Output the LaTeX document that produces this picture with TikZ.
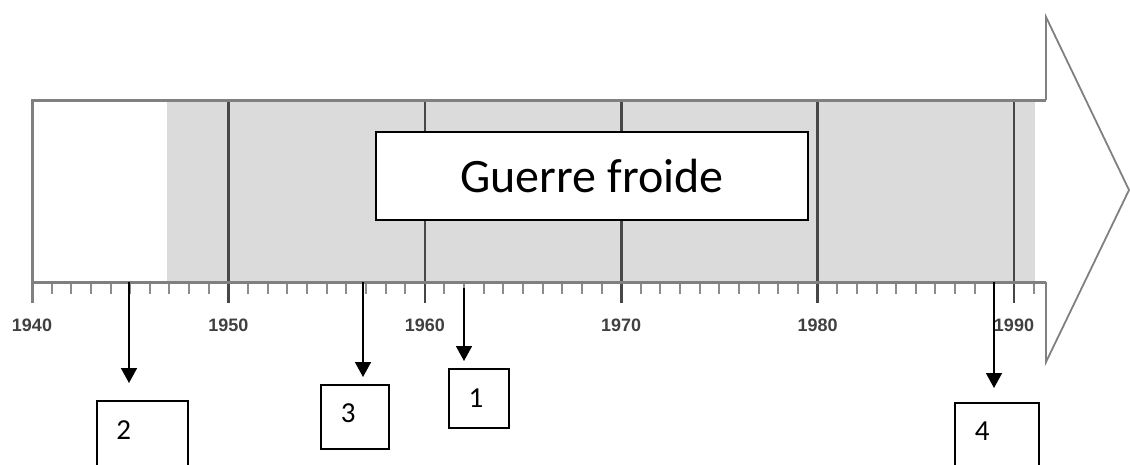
\documentclass[tikz,border=0pt]{standalone}
\usepackage{fontspec}
\setmainfont{Carlito}
\newfontfamily\anneefont{Liberation Sans}
\usetikzlibrary{arrows.meta}

\tikzset{
  bande/.style={draw=black!50, line width=3pt},
  pointe/.style={draw=black!50, line width=1.8pt, line join=miter},
  graduation/.style={draw=black!45, line width=2pt},
  decennie/.style={draw=black!72, line width=2.6pt},
  annee/.style={font=\anneefont\bfseries\fontsize{18}{20}\selectfont, text=black!75},
  periode/.style={draw, fill=white, line width=2pt, minimum width=432pt, minimum height=88pt,
    font=\fontsize{48}{56}\selectfont},
  numbox/.style={draw, fill=white, line width=1.6pt, inner ysep=0pt, align=left,
    anchor=north west, font=\fontsize{29}{32}\selectfont},
  fleche/.style={-{Triangle[length=15pt,width=16pt]}, line width=1.6pt}
}

\begin{document}
\begin{tikzpicture}[x=1pt,y=-1pt]
    \useasboundingbox (0,0) rectangle (1130,464);

    % fond de la frise
    \fill[white] (32,100) rectangle (1046,282);
    \fill[black!14] (167,100) rectangle (1035,282);

    % pointe de la fleche
    \draw[pointe] (1046,100) -- (1046,17) -- (1129,190) -- (1046,362) -- (1046,282);

    % graduations (une par an)
    \foreach \a in {1,...,51}
        \draw[graduation] ({32+19.64*\a},282) -- ++(0,12);
    \foreach \d in {1,...,5}
        \draw[decennie] ({32+196.4*\d},100) -- ++(0,203);

    % contour de la frise
    \draw[bande] (1046,100) -- (32,100) -- (32,303);
    \draw[bande] (32,282) -- (1046,282);

    % dates
    \foreach \d/\annee in {0/1940,1/1950,2/1960,3/1970,4/1980,5/1990}
        \draw ({32+196.4*\d},325) node[annee] (an\annee) {\annee};

    % periode
    \node[periode] (gf) at (592,176) {Guerre froide};

    % evenements
    \coordinate (ev2) at (129,282);
    \coordinate (ev3) at (363,282);
    \coordinate (ev1) at (464,288);
    \coordinate (ev4) at (994,282);

    \node[numbox, text width=52pt, inner xsep=19.5pt, text height=39pt, text depth=70pt] (box2) at (96,400) {2};
    \node[numbox, text width=28pt, inner xsep=20pt, text height=37.7pt, text depth=26.3pt] (box3) at (320,384) {3};
    \node[numbox, text width=20.6pt, inner xsep=19.7pt, text height=39pt, text depth=20pt] (box1) at (448,368) {1};
    \node[numbox, text width=44pt, inner xsep=20pt, text height=38pt, text depth=70pt] (box4) at (954,402) {4};

    \draw[fleche, shorten >=17pt] (ev2) -- (ev2 |- box2.north);
    \draw[fleche, shorten >=7pt] (ev3) -- (ev3 |- box3.north);
    \draw[fleche, shorten >=7pt] (ev1) -- (ev1 |- box1.north);
    \draw[fleche, shorten >=14pt] (ev4) -- (ev4 |- box4.north);
\end{tikzpicture}
\end{document}
